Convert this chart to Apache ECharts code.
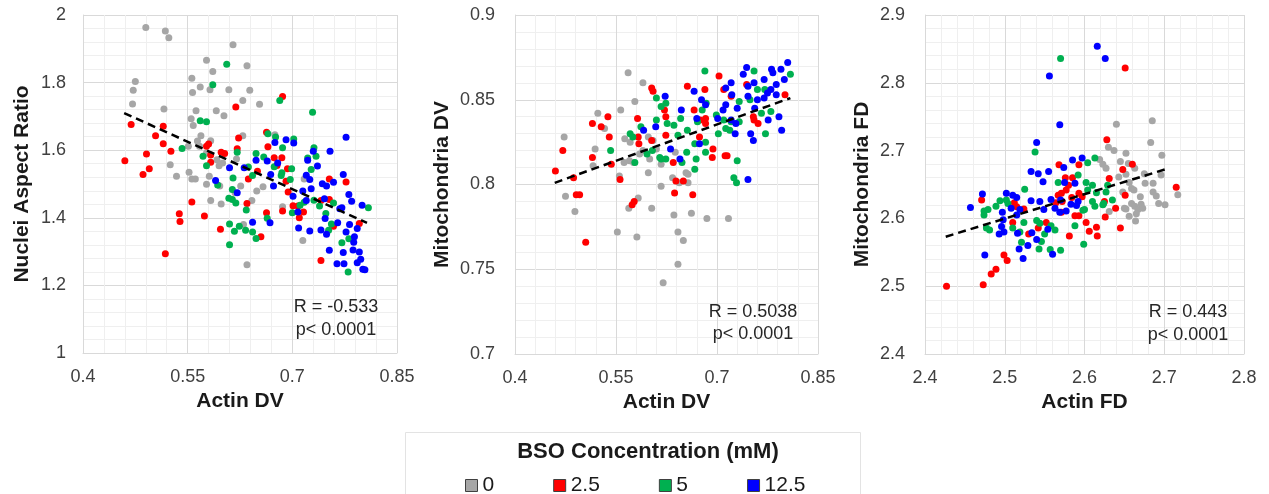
<!DOCTYPE html>
<html><head><meta charset="utf-8">
<script src="https://cdn.jsdelivr.net/npm/echarts@6/dist/echarts.min.js"></script>
<style>html,body{margin:0;padding:0;background:#fff}#c{width:1269px;height:494px}</style>
</head><body><div id="c"></div>
<script>
const groupNames = ['0', '2.5', '5', '12.5'];
const groupColors = ['#a6a6a6', '#ff0000', '#00b050', '#0000ff'];

// Panel 1: Actin DV vs Nuclei Aspect Ratio
const p1Gray = [[0.490,1.963],[0.518,1.953],[0.523,1.933],[0.615,1.912],[0.577,1.866],[0.635,1.850],[0.586,1.833],[0.556,1.813],[0.475,1.803],[0.472,1.777],[0.557,1.771],[0.568,1.787],[0.582,1.779],[0.609,1.779],[0.639,1.777],[0.471,1.737],[0.629,1.747],[0.653,1.736],[0.516,1.722],[0.562,1.717],[0.591,1.717],[0.602,1.702],[0.555,1.693],[0.558,1.673],[0.569,1.643],[0.583,1.628],[0.629,1.643],[0.564,1.627],[0.551,1.612],[0.567,1.612],[0.577,1.592],[0.620,1.574],[0.592,1.572],[0.600,1.562],[0.595,1.554],[0.525,1.557],[0.534,1.523],[0.552,1.535],[0.556,1.515],[0.561,1.515],[0.581,1.523],[0.577,1.499],[0.596,1.494],[0.626,1.494],[0.618,1.474],[0.649,1.479],[0.658,1.492],[0.583,1.451],[0.598,1.441],[0.642,1.451],[0.686,1.433],[0.717,1.515],[0.675,1.646],[0.630,1.380],[0.635,1.261],[0.715,1.333]];
const p1Red = [[0.460,1.569],[0.469,1.676],[0.515,1.671],[0.504,1.643],[0.515,1.619],[0.526,1.597],[0.491,1.589],[0.486,1.528],[0.495,1.545],[0.619,1.728],[0.686,1.759],[0.623,1.636],[0.580,1.618],[0.577,1.612],[0.583,1.586],[0.598,1.594],[0.603,1.590],[0.621,1.604],[0.583,1.564],[0.637,1.515],[0.650,1.538],[0.663,1.653],[0.665,1.610],[0.674,1.578],[0.685,1.578],[0.678,1.555],[0.693,1.545],[0.691,1.508],[0.556,1.447],[0.574,1.405],[0.635,1.442],[0.538,1.412],[0.694,1.476],[0.708,1.435],[0.663,1.415],[0.753,1.454],[0.777,1.506],[0.753,1.515],[0.518,1.294],[0.539,1.389],[0.597,1.366],[0.655,1.344],[0.686,1.420],[0.701,1.436],[0.710,1.400],[0.716,1.417],[0.741,1.274],[0.796,1.383],[0.759,1.375],[0.741,1.451]];
const p1Green = [[0.606,1.854],[0.586,1.794],[0.682,1.747],[0.729,1.712],[0.568,1.687],[0.577,1.684],[0.542,1.605],[0.665,1.649],[0.676,1.639],[0.702,1.633],[0.686,1.607],[0.621,1.594],[0.648,1.590],[0.659,1.580],[0.572,1.582],[0.577,1.554],[0.637,1.550],[0.674,1.551],[0.699,1.545],[0.731,1.607],[0.734,1.582],[0.722,1.577],[0.727,1.543],[0.685,1.533],[0.684,1.525],[0.643,1.525],[0.615,1.518],[0.697,1.513],[0.593,1.497],[0.614,1.484],[0.609,1.458],[0.614,1.454],[0.619,1.444],[0.634,1.423],[0.731,1.452],[0.739,1.435],[0.717,1.446],[0.711,1.437],[0.700,1.415],[0.748,1.413],[0.809,1.430],[0.759,1.444],[0.610,1.382],[0.624,1.375],[0.617,1.360],[0.633,1.363],[0.643,1.358],[0.648,1.339],[0.610,1.320],[0.664,1.399],[0.752,1.363],[0.756,1.382],[0.771,1.326],[0.781,1.338],[0.780,1.240]];
const p1Blue = [[0.777,1.638],[0.675,1.623],[0.691,1.631],[0.702,1.621],[0.730,1.597],[0.754,1.597],[0.648,1.570],[0.664,1.568],[0.679,1.562],[0.610,1.548],[0.631,1.548],[0.590,1.510],[0.621,1.474],[0.669,1.528],[0.673,1.494],[0.722,1.570],[0.736,1.553],[0.720,1.526],[0.725,1.513],[0.727,1.486],[0.715,1.479],[0.701,1.464],[0.743,1.501],[0.749,1.494],[0.759,1.505],[0.773,1.528],[0.781,1.469],[0.771,1.430],[0.785,1.449],[0.800,1.437],[0.768,1.427],[0.746,1.456],[0.720,1.451],[0.708,1.417],[0.782,1.380],[0.789,1.344],[0.793,1.368],[0.777,1.358],[0.788,1.328],[0.796,1.299],[0.787,1.305],[0.773,1.297],[0.764,1.264],[0.774,1.264],[0.793,1.267],[0.798,1.277],[0.801,1.248],[0.804,1.246],[0.753,1.304],[0.741,1.364],[0.747,1.398],[0.749,1.351],[0.765,1.385],[0.725,1.361],[0.709,1.370],[0.668,1.385],[0.643,1.387]];
const p1Trend = [[0.459,1.71],[0.807,1.385]];

// Panel 2: Actin DV vs Mitochondria DV
const p2Gray = [[0.568,0.866],[0.590,0.860],[0.578,0.849],[0.557,0.844],[0.523,0.842],[0.473,0.828],[0.519,0.821],[0.533,0.833],[0.563,0.827],[0.571,0.825],[0.585,0.818],[0.600,0.815],[0.570,0.814],[0.562,0.813],[0.576,0.813],[0.590,0.820],[0.598,0.828],[0.605,0.826],[0.610,0.821],[0.638,0.819],[0.617,0.812],[0.598,0.807],[0.555,0.805],[0.654,0.807],[0.657,0.806],[0.634,0.804],[0.644,0.801],[0.657,0.801],[0.617,0.799],[0.475,0.793],[0.489,0.784],[0.583,0.792],[0.603,0.786],[0.569,0.786],[0.636,0.782],[0.662,0.783],[0.685,0.780],[0.717,0.780],[0.516,0.811],[0.552,0.772],[0.581,0.769],[0.642,0.772],[0.650,0.767],[0.642,0.753],[0.620,0.742]];
const p2Red = [[0.460,0.808],[0.471,0.820],[0.487,0.804],[0.491,0.794],[0.496,0.794],[0.515,0.816],[0.515,0.836],[0.528,0.834],[0.538,0.840],[0.540,0.828],[0.543,0.812],[0.556,0.803],[0.574,0.788],[0.577,0.790],[0.582,0.839],[0.583,0.828],[0.584,0.824],[0.603,0.857],[0.605,0.855],[0.603,0.826],[0.622,0.844],[0.624,0.840],[0.624,0.829],[0.635,0.813],[0.639,0.802],[0.650,0.802],[0.637,0.795],[0.664,0.794],[0.656,0.858],[0.682,0.856],[0.666,0.844],[0.675,0.838],[0.683,0.839],[0.683,0.836],[0.674,0.828],[0.694,0.821],[0.693,0.816],[0.712,0.817],[0.715,0.817],[0.703,0.864],[0.710,0.856],[0.721,0.852],[0.744,0.859],[0.754,0.840],[0.755,0.838],[0.761,0.836],[0.801,0.853],[0.505,0.766]];
const p2Green = [[0.682,0.867],[0.755,0.867],[0.809,0.865],[0.610,0.851],[0.624,0.848],[0.617,0.846],[0.646,0.839],[0.610,0.838],[0.626,0.836],[0.636,0.835],[0.587,0.834],[0.571,0.830],[0.575,0.828],[0.542,0.820],[0.578,0.813],[0.596,0.818],[0.604,0.820],[0.615,0.816],[0.617,0.815],[0.624,0.815],[0.648,0.813],[0.642,0.829],[0.656,0.832],[0.678,0.844],[0.684,0.848],[0.671,0.837],[0.683,0.825],[0.667,0.824],[0.683,0.819],[0.669,0.815],[0.667,0.809],[0.699,0.841],[0.702,0.830],[0.713,0.833],[0.710,0.838],[0.721,0.837],[0.733,0.837],[0.733,0.849],[0.749,0.850],[0.760,0.856],[0.766,0.842],[0.772,0.830],[0.780,0.843],[0.771,0.856],[0.719,0.832],[0.725,0.804],[0.729,0.801],[0.730,0.814],[0.655,0.819]];
const p2Blue = [[0.805,0.872],[0.744,0.869],[0.739,0.865],[0.781,0.868],[0.783,0.866],[0.795,0.868],[0.800,0.862],[0.788,0.859],[0.721,0.860],[0.713,0.857],[0.746,0.858],[0.755,0.860],[0.770,0.862],[0.780,0.856],[0.775,0.854],[0.788,0.853],[0.770,0.851],[0.760,0.850],[0.746,0.852],[0.722,0.853],[0.730,0.845],[0.713,0.847],[0.709,0.844],[0.701,0.839],[0.721,0.838],[0.728,0.836],[0.727,0.830],[0.756,0.845],[0.776,0.838],[0.792,0.840],[0.796,0.832],[0.750,0.830],[0.754,0.826],[0.677,0.850],[0.683,0.847],[0.666,0.855],[0.670,0.839],[0.647,0.844],[0.623,0.852],[0.609,0.834],[0.591,0.832],[0.631,0.821],[0.645,0.815],[0.674,0.824],[0.746,0.803]];
const p2Trend = [[0.459,0.801],[0.809,0.851]];

// Panel 3: Actin FD vs Mitochondria FD
const p3Gray = [[2.640,2.739],[2.685,2.744],[2.683,2.712],[2.630,2.705],[2.637,2.700],[2.652,2.696],[2.697,2.693],[2.619,2.687],[2.623,2.680],[2.627,2.674],[2.645,2.684],[2.655,2.681],[2.663,2.674],[2.652,2.665],[2.643,2.661],[2.675,2.666],[2.696,2.664],[2.656,2.653],[2.676,2.652],[2.686,2.652],[2.659,2.644],[2.662,2.642],[2.686,2.639],[2.690,2.633],[2.670,2.632],[2.648,2.639],[2.717,2.635],[2.693,2.622],[2.701,2.620],[2.659,2.622],[2.671,2.621],[2.650,2.615],[2.631,2.610],[2.652,2.614],[2.663,2.618],[2.667,2.613],[2.673,2.615],[2.665,2.607],[2.656,2.603],[2.664,2.596]];
const p3Red = [[2.651,2.822],[2.628,2.716],[2.568,2.679],[2.593,2.679],[2.660,2.680],[2.648,2.672],[2.631,2.659],[2.576,2.660],[2.585,2.660],[2.580,2.649],[2.577,2.642],[2.593,2.637],[2.584,2.631],[2.597,2.632],[2.571,2.637],[2.564,2.623],[2.572,2.625],[2.651,2.634],[2.625,2.625],[2.639,2.615],[2.471,2.627],[2.515,2.617],[2.512,2.623],[2.715,2.646],[2.567,2.634],[2.510,2.594],[2.524,2.614],[2.530,2.577],[2.542,2.586],[2.552,2.594],[2.571,2.609],[2.581,2.574],[2.588,2.604],[2.593,2.604],[2.602,2.594],[2.606,2.581],[2.615,2.587],[2.616,2.574],[2.626,2.602],[2.645,2.586],[2.499,2.546],[2.503,2.538],[2.489,2.525],[2.483,2.518],[2.473,2.502],[2.427,2.500]];
const p3Green = [[2.570,2.836],[2.538,2.698],[2.613,2.689],[2.604,2.682],[2.567,2.653],[2.592,2.664],[2.602,2.653],[2.610,2.649],[2.604,2.642],[2.615,2.638],[2.627,2.639],[2.629,2.649],[2.525,2.643],[2.494,2.626],[2.502,2.627],[2.504,2.622],[2.489,2.618],[2.479,2.613],[2.474,2.611],[2.610,2.625],[2.624,2.622],[2.635,2.627],[2.598,2.612],[2.474,2.605],[2.477,2.586],[2.481,2.583],[2.510,2.586],[2.524,2.594],[2.519,2.580],[2.521,2.565],[2.540,2.597],[2.544,2.593],[2.543,2.555],[2.546,2.566],[2.550,2.577],[2.558,2.589],[2.563,2.583],[2.557,2.554],[2.570,2.553],[2.588,2.589],[2.599,2.562],[2.600,2.613],[2.613,2.618],[2.623,2.620]];
const p3Blue = [[2.616,2.854],[2.626,2.836],[2.556,2.810],[2.569,2.738],[2.540,2.712],[2.597,2.689],[2.585,2.686],[2.533,2.669],[2.542,2.666],[2.555,2.669],[2.574,2.675],[2.548,2.654],[2.575,2.653],[2.588,2.652],[2.502,2.637],[2.472,2.636],[2.510,2.634],[2.515,2.631],[2.457,2.616],[2.533,2.626],[2.544,2.625],[2.558,2.628],[2.570,2.627],[2.583,2.621],[2.592,2.625],[2.563,2.615],[2.549,2.613],[2.577,2.611],[2.508,2.615],[2.519,2.613],[2.475,2.546],[2.497,2.609],[2.498,2.598],[2.496,2.588],[2.493,2.577],[2.499,2.580],[2.515,2.605],[2.516,2.578],[2.518,2.555],[2.523,2.541],[2.529,2.560],[2.534,2.579],[2.540,2.569],[2.554,2.584],[2.560,2.547],[2.569,2.609],[2.590,2.619]];
const p3Trend = [[2.426,2.573],[2.706,2.674]];

const xTitles = ['Actin DV', 'Actin DV', 'Actin FD'];
const yTitles = ['Nuclei Aspect Ratio', 'Mitochondria DV', 'Mitochondria FD'];
const statTexts = [['R = -0.533', 'p< 0.0001'], ['R = 0.5038', 'p< 0.0001'], ['R = 0.443', 'p< 0.0001']];
const legendTitle = 'BSO Concentration (mM)';

const panels = [
  {groups: [p1Gray, p1Red, p1Green, p1Blue], trend: p1Trend},
  {groups: [p2Gray, p2Red, p2Green, p2Blue], trend: p2Trend},
  {groups: [p3Gray, p3Red, p3Green, p3Blue], trend: p3Trend}
];

const FONT = '"Liberation Sans", Arial, sans-serif';
const grids = [
  {left: 83, top: 15, width: 314, height: 338},
  {left: 515, top: 15, width: 303, height: 339},
  {left: 925, top: 15, width: 319, height: 339}
];
const xRanges = [[0.4, 0.85, 0.15], [0.4, 0.85, 0.15], [2.4, 2.8, 0.1]];
const yRanges = [[1, 2, 0.2], [0.7, 0.9, 0.05], [2.4, 2.9, 0.1]];
const yLabelMargins = [17, 20, 20];
const yNameGaps = [50, 62, 52];

function axisCommon(idx, r) {
  return {
    gridIndex: idx, type: 'value', min: r[0], max: r[1], interval: r[2],
    axisLine: {show: true, lineStyle: {color: '#d9d9d9', width: 1}},
    axisTick: {show: false},
    splitLine: {show: true, lineStyle: {color: '#d9d9d9', width: 1}},
    minorTick: {show: false, splitNumber: 5},
    minorSplitLine: {show: true, lineStyle: {color: '#efefef', width: 1}},
    nameLocation: 'middle',
    nameTextStyle: {fontFamily: FONT, fontSize: 21, fontWeight: 'bold', color: '#1a1a1a'}
  };
}

const xAxes = xRanges.map((r, i) => Object.assign(axisCommon(i, r), {
  name: xTitles[i], nameGap: 38,
  axisLabel: {fontFamily: FONT, fontSize: 18, color: '#404040', margin: 15}
}));
const yAxes = yRanges.map((r, i) => Object.assign(axisCommon(i, r), {
  name: yTitles[i], nameGap: yNameGaps[i],
  axisLabel: {fontFamily: FONT, fontSize: 18, color: '#404040', margin: yLabelMargins[i]}
}));

const series = [];
panels.forEach((p, i) => {
  p.groups.forEach((d, g) => {
    series.push({
      type: 'scatter', name: groupNames[g], xAxisIndex: i, yAxisIndex: i,
      data: d, symbol: 'circle', symbolSize: 7,
      itemStyle: {color: groupColors[g], opacity: 1},
      z: 2
    });
  });
  series.push({
    type: 'line', name: 'trend' + i, xAxisIndex: i, yAxisIndex: i,
    data: p.trend, symbol: 'none', silent: true,
    lineStyle: {color: '#000', width: 2.5, type: [8, 5]},
    z: 5
  });
});

const statPos = [[336, 307, 330], [753, 312, 334], [1188, 312, 335]];
const graphics = [];
statTexts.forEach((t, i) => {
  graphics.push({type: 'text', x: statPos[i][0], y: statPos[i][1], z: 10,
    style: {text: t[0], font: '18px ' + FONT, fill: '#262626', textAlign: 'center', textVerticalAlign: 'middle'}});
  graphics.push({type: 'text', x: statPos[i][0], y: statPos[i][2], z: 10,
    style: {text: t[1], font: '18px ' + FONT, fill: '#262626', textAlign: 'center', textVerticalAlign: 'middle'}});
});
graphics.push({type: 'rect', shape: {x: 405.5, y: 432.5, width: 455, height: 70},
  style: {fill: 'none', stroke: '#e3e3e3', lineWidth: 1}});
graphics.push({type: 'text', x: 648, y: 452,
  style: {text: legendTitle, font: 'bold 22px ' + FONT, fill: '#1a1a1a', textAlign: 'center', textVerticalAlign: 'middle'}});

const chart = echarts.init(document.getElementById('c'), null, {renderer: 'canvas'});
chart.setOption({
  animation: false,
  backgroundColor: '#fff',
  grid: grids,
  xAxis: xAxes,
  yAxis: yAxes,
  series: series,
  legend: {
    data: groupNames, left: 460, top: 470, orient: 'horizontal',
    icon: 'rect', itemWidth: 12, itemHeight: 12, itemGap: 59,
    itemStyle: {borderColor: '#404040', borderWidth: 1},
    textStyle: {fontFamily: FONT, fontSize: 21, color: '#1a1a1a', padding: [0, 0, 0, 0]},
    selectedMode: false
  },
  graphic: graphics
});
</script></body></html>
